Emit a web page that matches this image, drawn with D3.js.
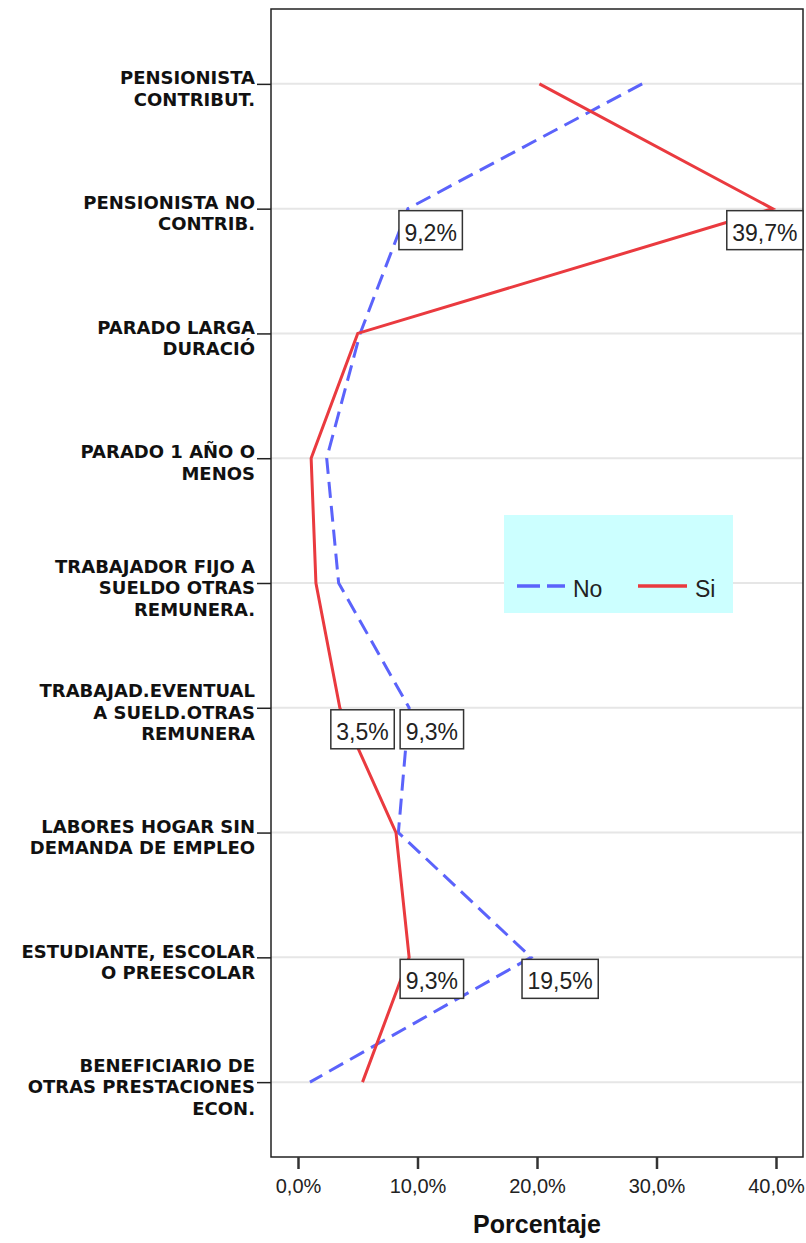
<!DOCTYPE html>
<html>
  <head>
    <meta charset="utf-8">
    <title>Porcentaje por situación laboral</title>
    <script src="https://d3js.org/d3.v7.min.js"></script>
    <style>
      body { margin: 0; background: #ffffff; }
    </style>
  </head>
  <body>
    <svg width="806" height="1243"></svg>
    <script>
      // categorias (lineas separadas con "|")
      var categories = [
        "PENSIONISTA|CONTRIBUT.",
        "PENSIONISTA NO|CONTRIB.",
        "PARADO LARGA|DURACIÓ",
        "PARADO 1 AÑO O|MENOS",
        "TRABAJADOR FIJO A|SUELDO OTRAS|REMUNERA.",
        "TRABAJAD.EVENTUAL|A SUELD.OTRAS|REMUNERA",
        "LABORES HOGAR SIN|DEMANDA DE EMPLEO",
        "ESTUDIANTE, ESCOLAR|O PREESCOLAR",
        "BENEFICIARIO DE|OTRAS PRESTACIONES|ECON."
      ];
      var seriesNames = ["No", "Si"];
      var valuesNo = [28.8, 9.2, 5.2, 2.4, 3.4, 9.3, 8.4, 19.5, 1.0];
      var valuesSi = [20.2, 39.7, 5.0, 1.1, 1.5, 3.5, 8.2, 9.3, 5.4];
      // categorias con etiqueta de valor
      var labeledIdx = [1, 5, 7];
      var xTicks = [0, 10, 20, 30, 40];

      var plot = { left: 271, right: 803, top: 9, bottom: 1157 };

      var svg = d3.select("svg");

      var xScale = d3.scaleLinear()
          .domain([0, 40])
          .range([298, 776]);

      var yScale = d3.scalePoint()
          .domain(categories)
          .range([plot.top, plot.bottom])
          .padding(0.6);

      var fmt = function(v) { return d3.format(".1f")(v).replace(".", ",") + "%"; };

      // lineas de cuadricula
      svg.append("g").selectAll("line")
          .data(categories)
          .enter()
          .append("line")
          .attr("x1", plot.left)
          .attr("x2", plot.right)
          .attr("y1", function(d) { return yScale(d); })
          .attr("y2", function(d) { return yScale(d); })
          .attr("stroke", "#e6e6e6")
          .attr("stroke-width", 2);

      // marco
      svg.append("rect")
          .attr("x", plot.left)
          .attr("y", plot.top)
          .attr("width", plot.right - plot.left)
          .attr("height", plot.bottom - plot.top)
          .attr("fill", "none")
          .attr("stroke", "#222")
          .attr("stroke-width", 1.5);

      // eje Y: marcas y etiquetas
      var yAxis = d3.axisLeft(yScale).tickSize(14).tickFormat("");
      var gy = svg.append("g")
          .attr("transform", "translate(" + plot.left + ",0)")
          .call(yAxis);
      gy.select(".domain").remove();
      gy.selectAll(".tick line").attr("stroke", "#222").attr("stroke-width", 1.5);

      var lh = 21.5;
      svg.append("g").selectAll("text")
          .data(categories)
          .enter()
          .append("text")
          .attr("text-anchor", "end")
          .style("font-family", "'DejaVu Sans', sans-serif")
          .style("font-weight", "bold")
          .style("font-size", "18px")
          .attr("fill", "#111")
          .each(function(d) {
            var lines = d.split("|");
            var y0 = yScale(d) + 11 - (lines.length - 1) * lh / 2;
            var t = d3.select(this);
            lines.forEach(function(s, i) {
              t.append("tspan")
                .attr("x", 255)
                .attr("y", y0 + i * lh)
                .text(s);
            });
          });

      // eje X
      var xAxis = d3.axisBottom(xScale)
          .tickValues(xTicks)
          .tickSize(12)
          .tickFormat(fmt);
      var gx = svg.append("g")
          .attr("transform", "translate(0," + plot.bottom + ")")
          .call(xAxis);
      gx.select(".domain").remove();
      gx.selectAll(".tick line").attr("stroke", "#333").attr("stroke-width", 2.5);
      gx.selectAll(".tick text")
          .attr("y", 36)
          .attr("dy", 0)
          .attr("fill", "#222")
          .style("font-family", "'Liberation Sans', Arial, sans-serif")
          .style("font-size", "20px");

      svg.append("text")
          .attr("x", (plot.left + plot.right) / 2)
          .attr("y", 1233)
          .attr("text-anchor", "middle")
          .style("font-family", "'Liberation Sans', Arial, sans-serif")
          .style("font-weight", "bold")
          .style("font-size", "25px")
          .attr("fill", "#111")
          .text("Porcentaje");

      // series
      var series = [
        { name: seriesNames[0], values: valuesNo, color: "#5b63fb", dash: "16,8" },
        { name: seriesNames[1], values: valuesSi, color: "#ea3a3f", dash: null }
      ];

      var line = d3.line()
          .x(function(d) { return xScale(d.v); })
          .y(function(d) { return yScale(d.c); });

      series.forEach(function(s) {
        var pts = categories.map(function(c, i) { return { c: c, v: s.values[i] }; });
        svg.append("path")
            .datum(pts)
            .attr("d", line)
            .attr("fill", "none")
            .attr("stroke", s.color)
            .attr("stroke-width", 3)
            .attr("stroke-dasharray", s.dash);
      });

      // etiquetas de valor
      series.forEach(function(s) {
        labeledIdx.forEach(function(i) {
          var x = xScale(s.values[i]);
          var y = yScale(categories[i]);
          var g = svg.append("g");
          var r = g.append("rect")
              .attr("fill", "#ffffff")
              .attr("stroke", "#333")
              .attr("stroke-width", 1.5);
          var t = g.append("text")
              .style("font-family", "'Liberation Sans', Arial, sans-serif")
              .style("font-size", "23px")
              .attr("fill", "#222")
              .text(fmt(s.values[i]));
          var w = t.node().getComputedTextLength() + 11;
          var bx = Math.min(x - 9, plot.right - w);
          r.attr("x", bx).attr("y", y + 2).attr("width", w).attr("height", 39);
          t.attr("x", bx + 5.5).attr("y", y + 32);
        });
      });

      // leyenda
      var legend = svg.append("g");
      legend.append("rect")
          .attr("x", 504).attr("y", 515)
          .attr("width", 229).attr("height", 98)
          .attr("fill", "#ccffff");
      var items = [
        { s: series[0], x1: 517, x2: 565, tx: 573 },
        { s: series[1], x1: 638, x2: 687, tx: 695 }
      ];
      items.forEach(function(it) {
        legend.append("line")
            .attr("x1", it.x1).attr("x2", it.x2)
            .attr("y1", 586).attr("y2", 586)
            .attr("stroke", it.s.color)
            .attr("stroke-width", 3.5)
            .attr("stroke-dasharray", it.s.dash ? "23,7" : null);
        legend.append("text")
            .attr("x", it.tx).attr("y", 597)
            .style("font-family", "'Liberation Sans', Arial, sans-serif")
            .style("font-size", "23px")
            .attr("fill", "#222")
            .text(it.s.name);
      });
    </script>
  </body>
</html>
